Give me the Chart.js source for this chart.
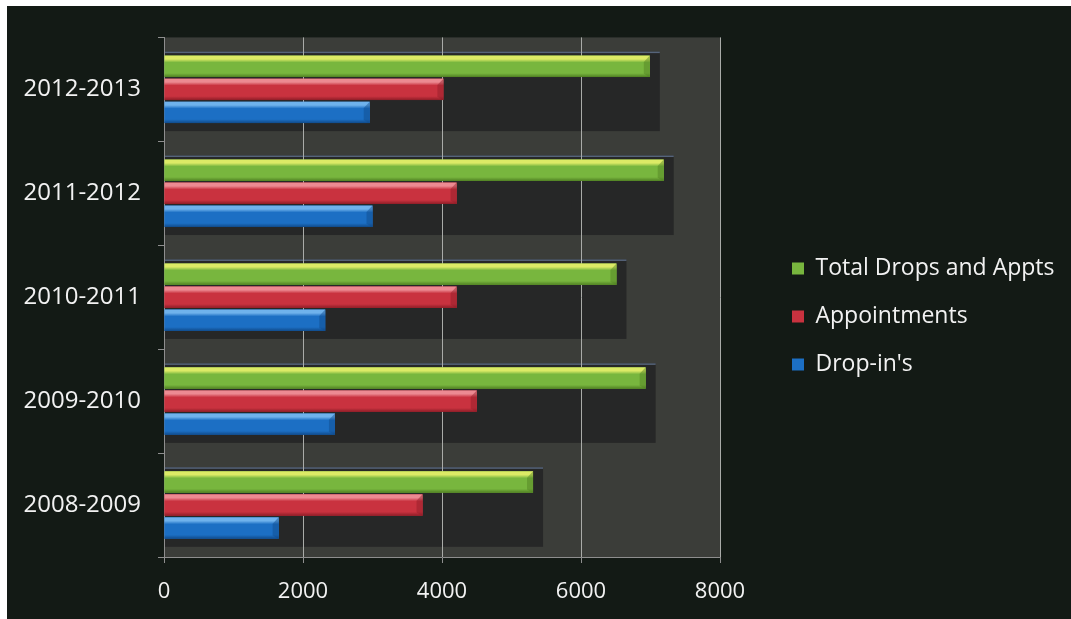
<!DOCTYPE html>
<html>
<head>
<meta charset="utf-8">
<script src="https://cdn.jsdelivr.net/npm/chart.js@4.4.0/dist/chart.umd.min.js"></script>
<style>
  html, body { margin: 0; padding: 0; background: #ffffff; }
  #wrap { position: absolute; left: 7px; top: 6px; width: 1064px; height: 613px; background: #131a15; }
</style>
</head>
<body>
<div id="wrap"><canvas id="chart" width="1064" height="613"></canvas></div>
<script>
// data, top category first
const years = ["2012-2013", "2011-2012", "2010-2011", "2009-2010", "2008-2009"];
const totalDrops = [6990, 7190, 6510, 6930, 5310];
const appointments = [4020, 4210, 4210, 4500, 3720];
const dropIns = [2960, 3000, 2320, 2460, 1650];
const xMin = 0, xMax = 8000, xStep = 2000;

const bodyColors = ["#78b63e", "#c9323f", "#1c6fc4"];
const lightColors = ["#dcea66", "#ec8a92", "#6fb2ec"];
const darkColors = ["#4f7f22", "#8e1d27", "#104a8a"];

Chart.defaults.font.family = "'Open Sans', sans-serif";

// plot background + dark 3d "depth" boxes behind each group
const backdrop = {
  id: "backdrop",
  beforeDraw(chart) {
    const {ctx, chartArea: a} = chart;
    ctx.save();
    ctx.fillStyle = "#3b3d39";
    ctx.fillRect(a.left, a.top, a.right - a.left, a.bottom - a.top);
    for (let i = 0; i < years.length; i++) {
      let top = Infinity, bottom = -Infinity, right = -Infinity;
      chart.data.datasets.forEach((ds, d) => {
        const el = chart.getDatasetMeta(d).data[i];
        if (!el) return;
        top = Math.min(top, el.y - el.height / 2);
        bottom = Math.max(bottom, el.y + el.height / 2);
        right = Math.max(right, el.x);
      });
      ctx.fillStyle = "#262727";
      ctx.fillRect(a.left + 1, top - 4, right + 9 - a.left, bottom - top + 12);
      ctx.fillStyle = "#56647a";
      ctx.fillRect(a.left + 1, top - 4, right + 9 - a.left, 1.5);
    }
    ctx.restore();
  }
};

// glossy look on each bar
const gloss = {
  id: "gloss",
  afterDatasetsDraw(chart) {
    const ctx = chart.ctx;
    ctx.save();
    chart.data.datasets.forEach((ds, d) => {
      chart.getDatasetMeta(d).data.forEach(el => {
        const top = el.y - el.height / 2;
        const h = el.height;
        const g = ctx.createLinearGradient(0, top, 0, top + h);
        g.addColorStop(0, lightColors[d]);
        g.addColorStop(0.16, lightColors[d]);
        g.addColorStop(0.32, bodyColors[d]);
        g.addColorStop(0.82, bodyColors[d]);
        g.addColorStop(1, darkColors[d]);
        ctx.fillStyle = g;
        ctx.fillRect(el.base, top, el.x - el.base, h);
        // bevelled end
        ctx.fillStyle = darkColors[d];
        ctx.beginPath();
        ctx.moveTo(el.x - 6, top + h * 0.3);
        ctx.lineTo(el.x, top);
        ctx.lineTo(el.x, top + h);
        ctx.lineTo(el.x - 6, top + h * 0.85);
        ctx.closePath();
        ctx.globalAlpha = 0.45;
        ctx.fill();
        ctx.globalAlpha = 1;
      });
    });
    ctx.restore();
  }
};

// move legend out to the right like the original, give it room
const legendShift = {
  id: "legendShift",
  afterLayout(chart) {
    const lg = chart.legend;
    lg.left = 760;
    lg.right = chart.width;
    lg.width = lg.right - lg.left;
    lg.top -= 11;
    lg.bottom -= 11;
  }
};

new Chart(document.getElementById("chart"), {
  type: "bar",
  data: {
    labels: years,
    datasets: [
      { label: "Total Drops and Appts", data: totalDrops, backgroundColor: bodyColors[0], borderWidth: 0 },
      { label: "Appointments", data: appointments, backgroundColor: bodyColors[1], borderWidth: 0 },
      { label: "Drop-in's", data: dropIns, backgroundColor: bodyColors[2], borderWidth: 0 }
    ]
  },
  options: {
    indexAxis: "y",
    responsive: false,
    animation: false,
    categoryPercentage: 0.665,
    barPercentage: 0.93,
    layout: { padding: { top: 30, right: 151, bottom: 0, left: 0 } },
    scales: {
      x: {
        min: xMin, max: xMax,
        ticks: { stepSize: xStep, color: "#f2f2f2", font: { size: 22 }, padding: 16,
                 callback: v => String(v) },
        grid: { color: "#a9aba8", lineWidth: 1, tickLength: 6, tickColor: "#8e8e8e" },
        border: { color: "#8e8e8e" },
        afterFit(scale) { scale.height = 62; }
      },
      y: {
        ticks: { color: "#f2f2f2", font: { size: 24 }, padding: 17 },
        grid: { drawOnChartArea: false, tickLength: 6, color: "#8e8e8e" },
        border: { color: "#8e8e8e" },
        afterFit(scale) { scale.width = 157; }
      }
    },
    plugins: {
      legend: {
        position: "right",
        maxWidth: 200,
        labels: { color: "#f2f2f2", font: { size: 23 }, boxWidth: 12, boxHeight: 12, padding: 25 }
      },
      tooltip: { enabled: false }
    }
  },
  plugins: [backdrop, gloss, legendShift]
});
</script>
</body>
</html>
